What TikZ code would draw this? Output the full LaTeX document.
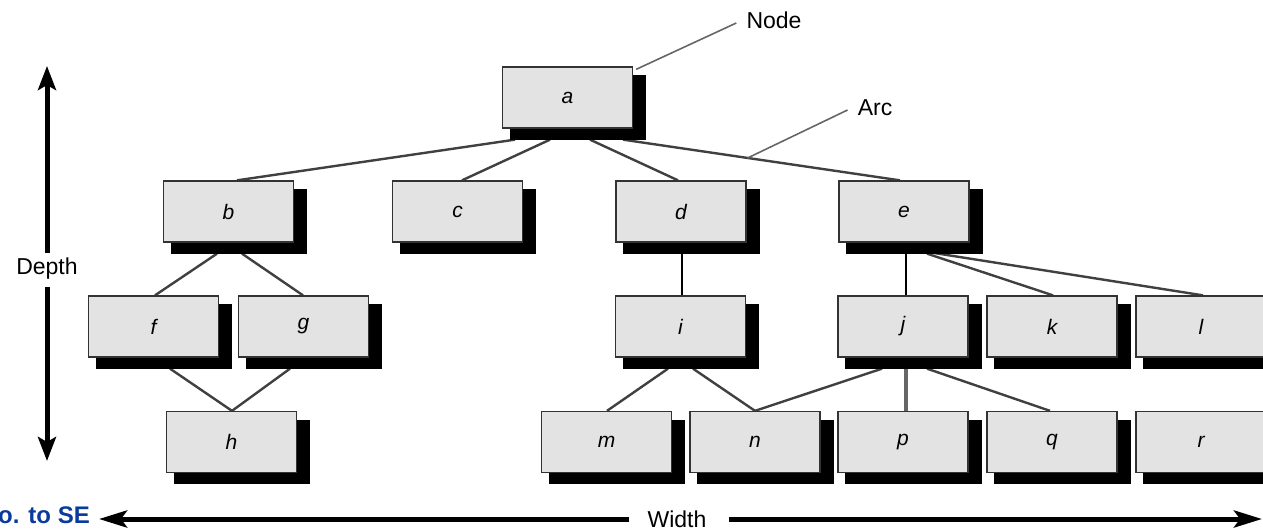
\documentclass[tikz,border=0pt]{standalone}
\usepackage{fontspec}
\setmainfont{Liberation Sans}
\usetikzlibrary{shadows,arrows.meta,backgrounds}
\definecolor{boxgray}{HTML}{E3E3E3}
\definecolor{seblue}{HTML}{0A3A9C}
\begin{document}
\begin{tikzpicture}[x=1pt,y=-1pt,
  box/.style={draw=black!80, line width=1.3pt, fill=boxgray,
    minimum width=130pt, minimum height=61pt, inner sep=0pt,
    font=\fontsize{21}{25}\selectfont\itshape,
    general shadow={fill=black, shadow scale=1.05, shadow xshift=10pt, shadow yshift=-9.5pt}},
  arcline/.style={draw=black!75, line width=2.4pt},
  solidline/.style={draw=black, line width=2.4pt},
  grayline/.style={draw=black!60, line width=3.5pt},
  ptr/.style={draw=black!60, line width=1.6pt},
  lab/.style={inner sep=0pt, font=\fontsize{23}{27}\selectfont},
  bigarrow/.style={line width=5pt, -{Stealth[length=24pt,width=18pt,inset=5pt]}}
]
\useasboundingbox (0,0) rectangle (1263,530);

% nodes
\node[box] (a) at (567.5,97.5) {a};
\node[box] (b) at (228.5,211.5) {b};
\node[box] (c) at (457.5,211.5) {c};
\node[box] (d) at (681,211.5) {d};
\node[box] (e) at (904,211.5) {e};
\node[box] (f) at (153.5,326.5) {f};
\node[box] (g) at (303.5,326.5) {g};
\node[box] (i) at (680.5,326.5) {i};
\node[box] (j) at (903,326.5) {j};
\node[box] (k) at (1052,326.5) {k};
\node[box] (l) at (1201,326.5) {l};
\node[box] (h) at (231.5,442) {h};
\node[box] (m) at (606.5,442) {m};
\node[box] (n) at (755,442) {n};
\node[box] (p) at (903,442) {p};
\node[box] (q) at (1052,442) {q};
\node[box] (r) at (1201,442) {r};

% labels
\node[lab] (nodelbl) at (774,20) {Node};
\node[lab] (arclbl) at (875,108) {Arc};
\node[lab, anchor=base] (depth) at (47,274) {Depth};
\node[lab] (width) at (677,519) {Width};
\node[anchor=base east, inner sep=0pt, text=seblue, font=\fontsize{24}{28}\selectfont\bfseries] (intro) at (90,523) {o. to SE};

\coordinate (dtop) at (47,66);
\coordinate (dbot) at (47,461);
\coordinate (wleft) at (99,519);
\coordinate (wright) at (1262,519);

% connectors
\begin{scope}[on background layer]
\draw[arcline] ([xshift=-52.5pt,yshift=-11pt]a.south) -- ([xshift=8.5pt]b.north);
\draw[arcline] ([xshift=-17.5pt,yshift=-11pt]a.south) -- ([xshift=4.5pt]c.north);
\draw[arcline] ([xshift=22.5pt,yshift=-11pt]a.south) -- ([xshift=-3pt]d.north);
\draw[arcline] ([xshift=55.5pt,yshift=-11pt]a.south) -- coordinate[pos=0.45] (arcpt) ([xshift=-4pt]e.north);
\draw[arcline] ([xshift=-11.5pt,yshift=-11pt]b.south) -- ([xshift=1.5pt]f.north);
\draw[arcline] ([xshift=13.5pt,yshift=-11pt]b.south) -- ([xshift=-0.5pt]g.north);
\draw[arcline] ([xshift=16.5pt,yshift=-11pt]f.south) -- ([xshift=0.5pt]h.north);
\draw[arcline] ([xshift=-13.5pt,yshift=-11pt]g.south) -- ([xshift=0.5pt]h.north);
\draw[solidline] ([xshift=1pt]d.south) -- ([xshift=1.5pt]i.north);
\draw[solidline] ([xshift=2pt]e.south) -- ([xshift=3pt]j.north);
\draw[arcline] ([xshift=23pt,yshift=-11pt]e.south) -- ([xshift=1pt]k.north);
\draw[arcline] ([xshift=28pt,yshift=-10pt]e.south) -- ([xshift=2pt]l.north);
\draw[arcline] ([xshift=-12.5pt,yshift=-11pt]i.south) -- ([xshift=0.5pt]m.north);
\draw[arcline] ([xshift=12.5pt,yshift=-11pt]i.south) -- ([xshift=0pt]n.north);
\draw[arcline] ([xshift=-21pt,yshift=-11pt]j.south) -- ([xshift=0pt]n.north);
\draw[grayline] ([xshift=3pt]j.south) -- ([xshift=3pt]p.north);
\draw[arcline] ([xshift=24pt,yshift=-11pt]j.south) -- ([xshift=-2pt]q.north);
\end{scope}

% pointers
\draw[ptr] ([xshift=3pt,yshift=-3pt]a.north east) -- ([xshift=-10pt,yshift=-3pt]nodelbl.west);
\draw[ptr] (arcpt) -- ([xshift=-10pt,yshift=-2pt]arclbl.west);

% dimension arrows
\draw[bigarrow] ([yshift=4pt]depth.north) -- (dtop);
\draw[bigarrow] ([yshift=-8pt]depth.south) -- (dbot);
\draw[bigarrow,-{Stealth[length=28pt,width=17pt,inset=6pt]}] ([xshift=-18pt]width.west) -- (wleft);
\draw[bigarrow,-{Stealth[length=28pt,width=17pt,inset=6pt]}] ([xshift=22pt]width.east) -- (wright);
\end{tikzpicture}
\end{document}
